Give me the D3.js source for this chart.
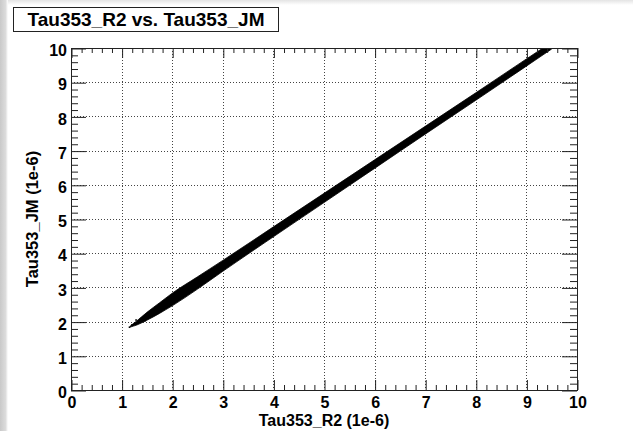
<!DOCTYPE html>
<html>
<head>
<meta charset="utf-8">
<script src="https://cdn.jsdelivr.net/npm/d3@7/dist/d3.min.js"></script>
<style>
  html, body { margin: 0; padding: 0; background: #fff; }
  svg { display: block; }
  text { font-family: "Liberation Sans", Arial, Helvetica, sans-serif; font-weight: bold; fill: #000; }
</style>
</head>
<body>
<svg id="chart" width="633" height="431"></svg>
<script>
// Scatter band of Tau353_JM against Tau353_R2 (both in units of 1e-6)
const titleText = "Tau353_R2 vs. Tau353_JM";
const xTitle = "Tau353_R2 (1e-6)";
const yTitle = "Tau353_JM (1e-6)";

const xTicks = [0, 1, 2, 3, 4, 5, 6, 7, 8, 9, 10];
const yTicks = [0, 1, 2, 3, 4, 5, 6, 7, 8, 9, 10];

// Outline of the dense point band: sampled R2 values with the lowest and highest JM values there
const bandR2 =      [1.17, 1.30, 1.50, 1.75, 2.00, 2.50, 3.00, 4.00, 5.00, 6.00, 7.00, 8.00, 9.00, 9.50];
const bandJMLow =   [1.84, 1.90, 2.04, 2.24, 2.46, 2.95, 3.47, 4.48, 5.48, 6.48, 7.48, 8.47, 9.47, 9.97];
const bandJMHigh =  [1.87, 2.02, 2.27, 2.55, 2.83, 3.31, 3.79, 4.77, 5.75, 6.73, 7.71, 8.69, 9.68, 10.17];

// Sparse points near the low end of the band
const strayR2 = [1.16, 1.21, 1.26, 1.33, 1.38, 1.44, 1.29, 1.47];
const strayJM = [1.83, 1.90, 1.94, 2.01, 2.08, 2.12, 2.04, 2.02];

const svg = d3.select("#chart");
const W = 633, H = 431;
const plot = { left: 71, right: 577, top: 48, bottom: 390 };

const x = d3.scaleLinear().domain([0, 10]).range([plot.left, plot.right]);
const y = d3.scaleLinear().domain([0, 10]).range([plot.bottom, plot.top]);

// canvas edge shading
const defs = svg.append("defs");
const gl = defs.append("linearGradient").attr("id", "edgeL").attr("x1", 0).attr("x2", 1).attr("y1", 0).attr("y2", 0);
gl.append("stop").attr("offset", 0).attr("stop-color", "#c9c9c9");
gl.append("stop").attr("offset", 0.7).attr("stop-color", "#dcdcdc");
gl.append("stop").attr("offset", 1).attr("stop-color", "#ffffff");
const gt = defs.append("linearGradient").attr("id", "edgeT").attr("x1", 0).attr("x2", 0).attr("y1", 0).attr("y2", 1);
gt.append("stop").attr("offset", 0).attr("stop-color", "#e4e4e4");
gt.append("stop").attr("offset", 1).attr("stop-color", "#ffffff");
defs.append("clipPath").attr("id", "plotClip")
  .append("rect").attr("x", plot.left).attr("y", plot.top)
  .attr("width", plot.right - plot.left).attr("height", plot.bottom - plot.top);

svg.append("rect").attr("x", 0).attr("y", 0).attr("width", W).attr("height", 5).attr("fill", "url(#edgeT)");
svg.append("rect").attr("x", 0).attr("y", 0).attr("width", 8).attr("height", H).attr("fill", "url(#edgeL)");

// dotted grid
const grid = svg.append("g").attr("stroke", "#444").attr("stroke-width", 1).attr("stroke-dasharray", "1,2");
grid.selectAll("line.gx").data(xTicks.slice(1, -1)).join("line")
  .attr("x1", d => Math.round(x(d)) + 0.5).attr("x2", d => Math.round(x(d)) + 0.5)
  .attr("y1", plot.top).attr("y2", plot.bottom);
grid.selectAll("line.gy").data(yTicks.slice(1, -1)).join("line")
  .attr("y1", d => Math.round(y(d)) + 0.5).attr("y2", d => Math.round(y(d)) + 0.5)
  .attr("x1", plot.left).attr("x2", plot.right);

// the point band
const bandRows = bandR2.map((v, i) => ({ r2: v, lo: bandJMLow[i], hi: bandJMHigh[i] }));
const area = d3.area()
  .x(d => x(d.r2)).y0(d => y(d.lo)).y1(d => y(d.hi))
  .curve(d3.curveMonotoneX);
const marks = svg.append("g").attr("clip-path", "url(#plotClip)");
marks.append("path").datum(bandRows).attr("d", area)
  .attr("fill", "#000").attr("stroke", "#000").attr("stroke-width", 0.8);
marks.selectAll("rect.stray").data(strayR2.map((v, i) => [v, strayJM[i]])).join("rect")
  .attr("x", d => x(d[0]) - 1).attr("y", d => y(d[1]) - 1)
  .attr("width", 1.6).attr("height", 1.6).attr("fill", "#000");

// axes with inward ticks on all four sides
function styleAxis(g) {
  g.select(".domain").remove();
  g.selectAll(".tick line").attr("stroke", "#222");
}
const minorStep = 0.2;
const minor = d3.range(0, 10 + 1e-9, minorStep).filter(v => Math.abs(v - Math.round(v)) > 1e-6);

const axB = svg.append("g").attr("transform", `translate(0.5,${plot.bottom})`)
  .call(d3.axisBottom(x).tickValues(xTicks).tickSize(-10).tickPadding(6).tickFormat(d3.format("d")));
styleAxis(axB);
axB.selectAll("text").attr("font-size", 16).attr("font-family", null).attr("dy", "0.75em");
svg.append("g").attr("transform", `translate(0.5,${plot.bottom})`)
  .call(d3.axisBottom(x).tickValues(minor).tickSize(-5).tickFormat("")).call(styleAxis);

svg.append("g").attr("transform", `translate(0.5,${plot.top})`)
  .call(d3.axisTop(x).tickValues(xTicks).tickSize(-10).tickFormat("")).call(styleAxis);
svg.append("g").attr("transform", `translate(0.5,${plot.top})`)
  .call(d3.axisTop(x).tickValues(minor).tickSize(-5).tickFormat("")).call(styleAxis);

const axL = svg.append("g").attr("transform", `translate(${plot.left},0.5)`)
  .call(d3.axisLeft(y).tickValues(yTicks).tickSize(-15).tickPadding(4).tickFormat(d3.format("d")));
styleAxis(axL);
axL.selectAll("text").attr("font-size", 16).attr("font-family", null).attr("dy", "0.45em");
svg.append("g").attr("transform", `translate(${plot.left},0.5)`)
  .call(d3.axisLeft(y).tickValues(minor).tickSize(-7).tickFormat("")).call(styleAxis);

svg.append("g").attr("transform", `translate(${plot.right},0.5)`)
  .call(d3.axisRight(y).tickValues(yTicks).tickSize(-15).tickFormat("")).call(styleAxis);
svg.append("g").attr("transform", `translate(${plot.right},0.5)`)
  .call(d3.axisRight(y).tickValues(minor).tickSize(-7).tickFormat("")).call(styleAxis);

// frame
svg.append("rect")
  .attr("x", plot.left + 0.5).attr("y", plot.top + 0.5)
  .attr("width", plot.right - plot.left).attr("height", plot.bottom - plot.top)
  .attr("fill", "none").attr("stroke", "#222").attr("stroke-width", 1);

// axis titles
svg.append("text").attr("x", (plot.left + plot.right) / 2).attr("y", 426)
  .attr("text-anchor", "middle").attr("font-size", 16).text(xTitle);
svg.append("text")
  .attr("transform", `translate(38,${(plot.top + plot.bottom) / 2}) rotate(-90)`)
  .attr("text-anchor", "middle").attr("font-size", 16.5).text(yTitle);

// title box
svg.append("rect").attr("x", 13.5).attr("y", 7.5).attr("width", 265).attr("height", 24)
  .attr("fill", "#fff").attr("stroke", "#222").attr("stroke-width", 1);
svg.append("text").attr("x", 146).attr("y", 26).attr("text-anchor", "middle")
  .attr("font-size", 19).text(titleText);
</script>
</body>
</html>
